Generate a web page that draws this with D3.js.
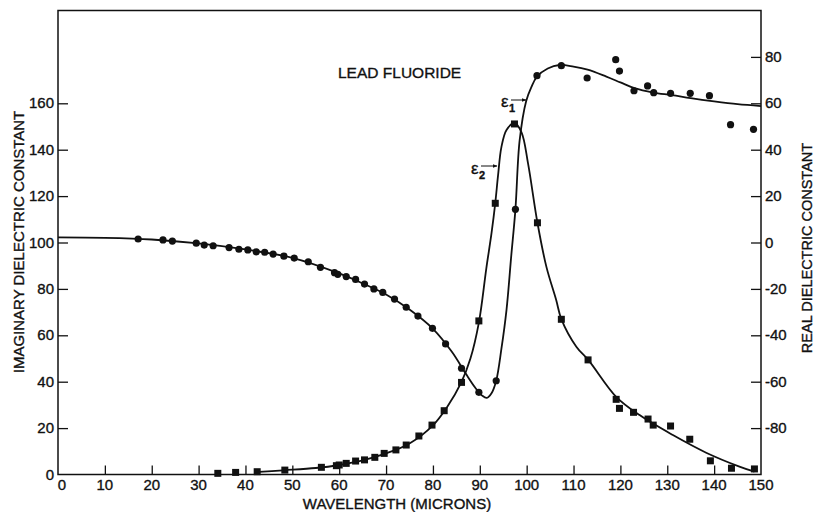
<!DOCTYPE html>
<html>
<head>
<meta charset="utf-8">
<script src="https://cdn.jsdelivr.net/npm/d3@7"></script>
<style>
  body { margin: 0; background: #fff; }
  svg text { font-family: "Liberation Sans", Arial, sans-serif; fill: #111; stroke: #111; stroke-width: 0.35px; }
</style>
</head>
<body>
<div class="chart"></div>
<script>
// wavelength tick labels and dielectric constant ticks
var xTicks = [0, 10, 20, 30, 40, 50, 60, 70, 80, 90, 100, 110, 120, 130, 140, 150];
var leftTicks = [0, 20, 40, 60, 80, 100, 120, 140, 160];
var rightTicks = [-80, -60, -40, -20, 0, 20, 40, 60, 80];

// measured real part (circles, right axis)
var e1Lambda = [17.1, 22.4, 24.4, 29.5, 31.2, 33.1, 36.5, 38.6, 40.5, 42.3, 44.1, 45.9, 48.2, 50.4,
  53.4, 56.0, 59.0, 59.7, 61.5, 63.5, 65.4, 67.4, 69.3, 71.8, 74.3, 76.8, 79.9, 82.7, 86.1, 89.8,
  93.5, 97.6, 102.2, 107.4, 112.9, 119.0, 119.8, 122.9, 125.8, 127.1, 130.7, 134.9, 139.0, 143.5, 148.4];
var e1Values = [1.5, 1.1, 0.6, -0.3, -1.1, -1.4, -2.2, -2.9, -3.2, -4.0, -4.2, -5.0, -5.9, -6.7,
  -8.3, -10.7, -13.0, -13.7, -14.7, -15.9, -17.9, -20.0, -21.5, -24.4, -27.9, -31.7, -37.0, -43.7, -54.2, -64.6,
  -59.6, 14.3, 71.9, 76.2, 70.9, 78.8, 73.9, 65.4, 67.5, 64.6, 64.3, 64.3, 63.3, 50.8, 48.8];

// fitted real part curve
var e1CurveLambda = [0, 10, 20, 30, 40, 50, 60, 65, 70, 75, 80, 84, 87, 89, 90.5, 91.5, 92.5, 93.5,
  94.6, 95.7, 96.7, 97.6, 98.5, 99.9, 101, 102.2, 104.5, 107, 110, 113, 117, 120, 123, 127, 131, 135, 140, 145, 150];
var e1CurveValues = [2.2, 2.0, 1.3, -0.4, -3.0, -6.6, -13.3, -17.6, -22.4, -28.9, -37.2, -47, -56.5, -62.5, -66, -67, -65, -59.6,
  -46, -29, -6, 14.3, 44, 61, 67, 71.5, 75, 76.5, 75.8, 74.5, 71.5, 69, 66.5, 64.6, 63.5, 62.2, 60.8, 59.6, 58.8];

// measured imaginary part (squares, left axis)
var e2Lambda = [34.1, 37.9, 42.5, 48.4, 56.2, 59.4, 60.0, 61.5, 63.5, 65.4, 67.6, 69.6, 72.1, 74.3, 77.0,
  79.8, 82.4, 86.1, 89.8, 93.3, 97.4, 102.3, 107.4, 113.1, 119.1, 119.8, 122.8, 125.9, 127.0, 130.7,
  134.8, 139.2, 143.7, 148.6];
var e2Values = [0.5, 0.9, 1.2, 1.9, 3.1, 3.8, 4.1, 4.8, 5.8, 6.3, 7.4, 9.1, 10.6, 12.7, 16.6,
  21.3, 27.5, 39.7, 66.2, 116.9, 151.1, 108.5, 66.9, 49.4, 32.4, 28.5, 26.8, 23.9, 21.3, 20.9,
  15.2, 5.9, 2.7, 2.4];

// fitted imaginary part curve
var e2CurveLambda = [42, 48, 55, 60, 65, 70, 75, 80, 83, 86, 88, 89.8, 91.4, 92.5, 93.3, 93.9, 94.6, 95.7,
  97.4, 98.9, 100.3, 102.3, 104.2, 106.3, 107.4, 110.6, 113.3, 119.1, 124.1, 131.2, 138.3, 145.4, 148.6];
var e2CurveValues = [1.0, 1.8, 2.8, 4.1, 6.1, 9.1, 13.4, 21.2, 29, 39.5, 50, 65.5, 89, 104, 117, 129, 141, 148.5,
  151.5, 147.5, 134, 108.5, 89.6, 75.2, 67, 55.1, 49, 33.5, 25.6, 17.0, 9.4, 3.4, 1.2];

var svgWidth = 814;
var svgHeight = 512;
var ink = "#111";

var svg = d3.select(".chart")
            .append("svg")
            .attr("width", svgWidth)
            .attr("height", svgHeight);

var x = d3.scaleLinear().domain([0, 150]).range([58, 761]);
var yLeft = d3.scaleLinear().domain([0, 200]).range([474.5, 10.5]);
var yRight = d3.scaleLinear().domain([-100, 100]).range([474.5, 10.5]);

// frame
svg.append("rect")
    .attr("x", x(0))
    .attr("y", yLeft(200))
    .attr("width", x(150) - x(0))
    .attr("height", yLeft(0) - yLeft(200))
    .attr("fill", "none")
    .attr("stroke", ink)
    .attr("stroke-width", 1.5);

// axes with inward ticks
var bottomAxis = d3.axisBottom(x).tickValues(xTicks.slice(1, -1)).tickSize(-9).tickFormat("");
svg.append("g").attr("transform", "translate(0," + yLeft(0) + ")").call(bottomAxis);

var leftAxis = d3.axisLeft(yLeft).tickValues(leftTicks.slice(1)).tickSize(-10).tickFormat("");
svg.append("g").attr("transform", "translate(" + x(0) + ",0)").call(leftAxis);

var rightAxis = d3.axisRight(yRight).tickValues(rightTicks).tickSize(-10).tickFormat("");
svg.append("g").attr("transform", "translate(" + x(150) + ",0)").call(rightAxis);

svg.selectAll(".domain").remove();
svg.selectAll(".tick line").attr("stroke", ink).attr("stroke-width", 1.3);

// tick labels
svg.selectAll("text.xlab")
    .data(xTicks)
    .enter()
    .append("text")
    .attr("class", "xlab")
    .attr("x", function(d) { return x(d) + (d === 0 ? 4 : 0); })
    .attr("y", 490)
    .attr("text-anchor", "middle")
    .attr("font-size", 15)
    .text(function(d) { return d; });

svg.selectAll("text.llab")
    .data(leftTicks)
    .enter()
    .append("text")
    .attr("class", "llab")
    .attr("x", 54)
    .attr("y", function(d) { return yLeft(d) + 5; })
    .attr("text-anchor", "end")
    .attr("font-size", 15)
    .text(function(d) { return d; });

svg.selectAll("text.rlab")
    .data(rightTicks)
    .enter()
    .append("text")
    .attr("class", "rlab")
    .attr("x", 765)
    .attr("y", function(d) { return yRight(d) + 5; })
    .attr("font-size", 15)
    .text(function(d) { return d; });

// axis titles
svg.append("text")
    .attr("x", 397).attr("y", 509)
    .attr("text-anchor", "middle")
    .attr("font-size", 15)
    .text("WAVELENGTH (MICRONS)");

svg.append("text")
    .attr("transform", "translate(24,242) rotate(-90)")
    .attr("text-anchor", "middle")
    .attr("font-size", 15)
    .text("IMAGINARY DIELECTRIC CONSTANT");

svg.append("text")
    .attr("transform", "translate(812,248) rotate(-90)")
    .attr("text-anchor", "middle")
    .attr("font-size", 14.5)
    .text("REAL DIELECTRIC CONSTANT");

svg.append("text")
    .attr("x", 338).attr("y", 78)
    .attr("font-size", 15.5)
    .text("LEAD FLUORIDE");

// fitted curves
var lineE1 = d3.line()
    .x(function(d, i) { return x(e1CurveLambda[i]); })
    .y(function(d) { return yRight(d); })
    .curve(d3.curveCatmullRom.alpha(0.5));

var lineE2 = d3.line()
    .x(function(d, i) { return x(e2CurveLambda[i]); })
    .y(function(d) { return yLeft(d); })
    .curve(d3.curveCatmullRom.alpha(0.5));

svg.append("path")
    .attr("d", lineE1(e1CurveValues))
    .attr("fill", "none")
    .attr("stroke", ink)
    .attr("stroke-width", 1.8);

svg.append("path")
    .attr("d", lineE2(e2CurveValues))
    .attr("fill", "none")
    .attr("stroke", ink)
    .attr("stroke-width", 1.8);

// data points
svg.selectAll("circle.e1")
    .data(e1Values)
    .enter()
    .append("circle")
    .attr("class", "e1")
    .attr("cx", function(d, i) { return x(e1Lambda[i]); })
    .attr("cy", function(d) { return yRight(d); })
    .attr("r", 3.6)
    .attr("fill", ink);

svg.selectAll("rect.e2")
    .data(e2Values)
    .enter()
    .append("rect")
    .attr("class", "e2")
    .attr("x", function(d, i) { return x(e2Lambda[i]) - 3.5; })
    .attr("y", function(d) { return yLeft(d) - 3.5; })
    .attr("width", 7)
    .attr("height", 7)
    .attr("fill", ink);

// curve labels with arrows
svg.append("defs").append("marker")
    .attr("id", "arr")
    .attr("viewBox", "0 0 10 10")
    .attr("refX", 9).attr("refY", 5)
    .attr("markerWidth", 5).attr("markerHeight", 5)
    .attr("orient", "auto")
    .append("path")
    .attr("d", "M0,1L10,5L0,9Z")
    .attr("fill", ink);

var labels = [
  {name: "\u03b5", sub: "1", x: 501, y: 107, ax1: 511, ax2: 526, ay: 100},
  {name: "\u03b5", sub: "2", x: 471, y: 174, ax1: 481, ax2: 497, ay: 166}
];

labels.forEach(function(l) {
  svg.append("text").attr("x", l.x).attr("y", l.y).attr("font-size", 17).text(l.name);
  svg.append("text").attr("x", l.x + 8).attr("y", l.y + 5).attr("font-size", 11).attr("font-weight", "bold").text(l.sub);
  svg.append("line")
      .attr("x1", l.ax1).attr("x2", l.ax2)
      .attr("y1", l.ay).attr("y2", l.ay)
      .attr("stroke", ink).attr("stroke-width", 1)
      .attr("marker-end", "url(#arr)");
});
</script>
</body>
</html>
